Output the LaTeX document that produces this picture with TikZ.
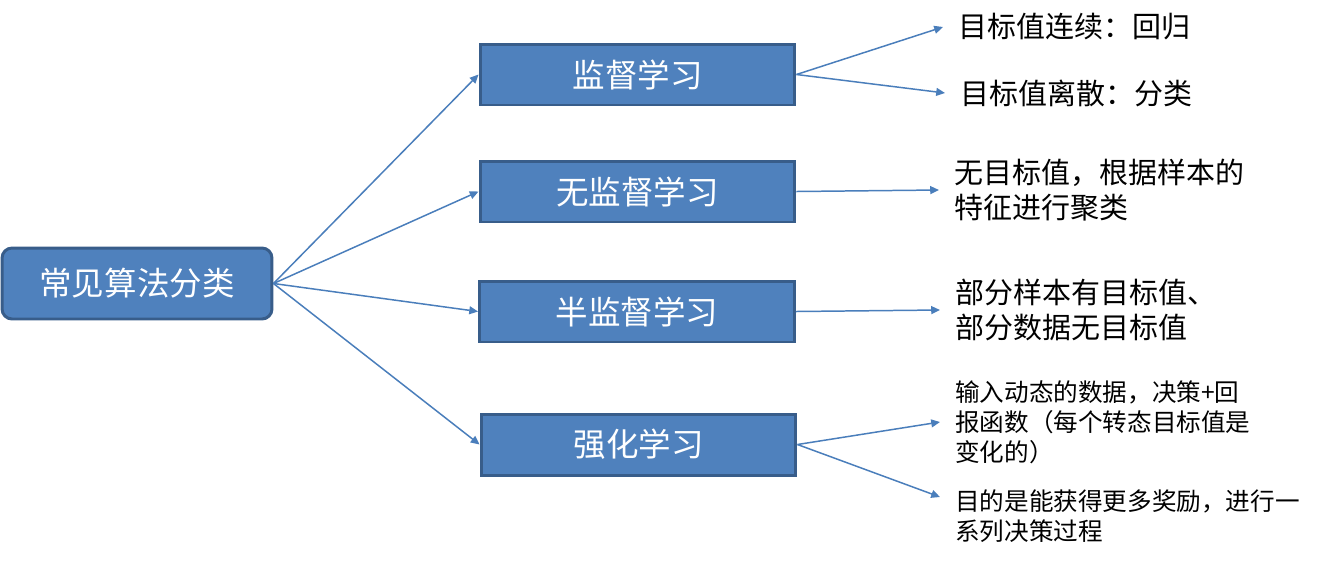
\documentclass[tikz,border=0pt]{standalone}
\usepackage{fontspec}
\setmainfont{Noto Sans CJK SC}
\usepackage{tikz}
\usetikzlibrary{arrows.meta,positioning}
\definecolor{boxblue}{RGB}{79,129,189}
\definecolor{edgeblue}{RGB}{56,93,138}
\definecolor{linkblue}{RGB}{74,126,187}

\begin{document}
\begin{tikzpicture}[x=0.02cm, y=-0.02cm,
    rootbox/.style={draw=edgeblue, line width=1.7pt, fill=boxblue, rounded corners=0.2cm,
        minimum width=5.4cm, minimum height=1.42cm, text=white, font=\fontsize{18.5}{22}\selectfont},
    catbox/.style={draw=edgeblue, line width=1.7pt, fill=boxblue,
        minimum width=6.3cm, minimum height=1.22cm, text=white, font=\fontsize{18.5}{22}\selectfont},
    note/.style={anchor=west, align=left, inner xsep=0.3cm, inner ysep=0pt,
        font=\fontsize{16.5}{20}\selectfont},
    smallnote/.style={note, font=\fontsize{14}{17}\selectfont},
    link/.style={linkblue, line width=0.85pt, -{Triangle[length=5pt, width=4.5pt]}}]

\useasboundingbox (0,0) rectangle (1337,562);

% 根节点
\node[rootbox] (root) at (137,283.5) {常见算法分类};

% 四种学习方式
\node[catbox] (sup)   at (637.5,74.5)  {监督学习};
\node[catbox] (unsup) at (637.5,191.5) {无监督学习};
\node[catbox] (semi)  at (637,311.5)   {半监督学习};
\node[catbox] (rl)    at (638.5,444.5) {强化学习};

% 说明文字
\node[note] (reg)  at (943,27)  {目标值连续：回归};
\node[note] (cls)  at (945,93)  {目标值离散：分类};
\node[note] (clu)  at (939,190) {无目标值，根据样本的\\特征进行聚类};
\node[note] (part) at (940,310) {部分样本有目标值、\\部分数据无目标值};
\node[smallnote] (rwd)  at (940,422) {输入动态的数据，决策+回\\报函数（每个转态目标值是\\变化的）};
\node[smallnote] (goal) at (940,516) {目的是能获得更多奖励，进行一\\系列决策过程};
\coordinate (goalin) at (940,497);

% 连线
\foreach \t in {sup,unsup,semi,rl}
    \draw[link] (root.east) -- (\t.west);

\draw[link] (sup.east) -- (reg.west);
\draw[link] (sup.east) -- (cls.west);
\draw[link] (unsup.east) -- (clu.west);
\draw[link] (semi.east) -- (part.west);
\draw[link] (rl.east) -- (rwd.west);
\draw[link] (rl.east) -- (goalin);

\end{tikzpicture}
\end{document}
